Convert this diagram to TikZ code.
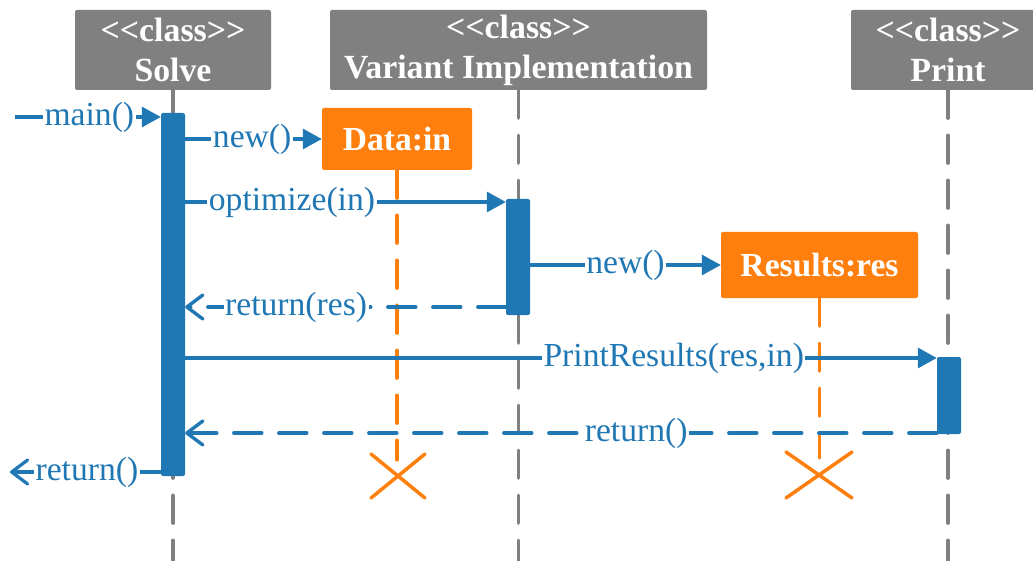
\documentclass[tikz,border=0pt]{standalone}
\usepackage{fontspec}
\setmainfont{Liberation Serif}
\usetikzlibrary{arrows.meta}
\definecolor{cblue}{RGB}{31,119,180}
\definecolor{corange}{RGB}{255,127,14}
\definecolor{cgray}{RGB}{128,128,128}
\newcommand\clsname{<\kern0pt<class>\kern0pt>}
\begin{document}
\begin{tikzpicture}[x=1pt,y=-1pt,
  hdr/.style={fill=cgray, rounded corners=2pt, text=white, font=\fontsize{33.8}{40}\selectfont\bfseries, align=center, minimum height=80pt, inner sep=0pt},
  obj/.style={fill=corange, rounded corners=2pt, text=white, font=\fontsize{33.6}{39}\selectfont\bfseries, inner sep=0pt},
  actbar/.style={fill=cblue, rounded corners=2pt, minimum width=24pt, inner sep=0pt},
  lifeline/.style={draw=cgray, line width=3.3pt, dash pattern=on 28pt off 17pt, line cap=round},
  olife/.style={draw=corange, line width=3.3pt, dash pattern=on 28pt off 17pt, line cap=round},
  call/.style={draw=cblue, line width=3.2pt, -{Triangle[length=19pt,width=20pt]}},
  ret/.style={draw=cblue, line width=3.4pt, dash pattern=on 28pt off 17pt, line cap=round, -{Straight Barb[length=16pt,width=24pt,round]}},
  lret/.style={draw=cblue, line width=3.2pt, -{Straight Barb[length=16pt,width=24pt,round]}},
  lbl/.style={fill=white, text=cblue, inner sep=1.5pt, font=\fontsize{33.6}{39}\selectfont},
  xmark/.style={draw=corange, line width=3.5pt, line cap=round}
]
\useasboundingbox (0,0) rectangle (1033,561);
\coordinate (bottom) at (0,561);

% headers
\node[hdr, minimum width=196pt] (solve) at (173,50) {\clsname\\Solve};
\node[hdr, minimum width=377pt] (variant) at (518.5,50) {\clsname\\Variant Implementation};
\node[hdr, minimum width=194pt] (print) at (948,50) {\clsname\\Print};

% lifelines
\draw[lifeline] (solve.south) -- (solve.south |- bottom);
\draw[lifeline] (variant.south) -- (variant.south |- bottom);
\draw[lifeline] (print.south) -- (print.south |- bottom);

% objects
\node[obj, minimum width=150pt, minimum height=62pt] (data) at (397,139) {Data:in};
\node[obj, minimum width=197pt, minimum height=66pt] (results) at (819.5,265) {Results:res};
\coordinate (dataend) at (398,460);
\coordinate (resend) at (819,458);
\draw[olife] (data.south) -- (data.south |- dataend);
\draw[olife] (results.south) -- (results.south |- resend);
\coordinate (dx) at (398,476);
\coordinate (rx) at (819,475);
\draw[xmark] ([shift={(-27,-22)}]dx) -- ([shift={(27,22)}]dx)
             ([shift={(-27,22)}]dx) -- ([shift={(27,-22)}]dx);
\draw[xmark] ([shift={(-33,-23)}]rx) -- ([shift={(33,23)}]rx)
             ([shift={(-33,23)}]rx) -- ([shift={(33,-23)}]rx);

% activation bars
\node[actbar, minimum height=363pt] (sbar) at (173,294.5) {};
\node[actbar, minimum height=116pt] (vbar) at (518,257) {};
\node[actbar, minimum height=77pt] (pbar) at (949,395.5) {};

% messages
\coordinate (mainL) at (15,117);
\coordinate (yopt) at (0,202);
\coordinate (yrr) at (0,307);
\coordinate (ypr) at (0,358);
\coordinate (yr2) at (0,433);
\coordinate (retL) at (10,472);

\draw[call] (mainL) -- (mainL -| sbar.west) node[lbl, pos=0.51] {main()};
\draw[call] (sbar.east |- data.west) -- (data.west) node[lbl, pos=0.49] {new()};
\draw[call] (sbar.east |- yopt) -- (vbar.west |- yopt) node[lbl, pos=0.333] {optimize(in)};
\draw[call] (vbar.east |- results.west) -- (results.west) node[lbl, pos=0.5] {new()};
\draw[ret] (vbar.west |- yrr) -- (sbar.east |- yrr) node[lbl, pos=0.654] {return(res)};
\draw[call] (sbar.east |- ypr) -- (pbar.west |- ypr) node[lbl, pos=0.65] {PrintResults(res,in)};
\draw[ret] (pbar.west |- yr2) -- (sbar.east |- yr2) node[lbl, pos=0.40] {return()};
\draw[lret] (sbar.west |- retL) -- (retL) node[lbl, pos=0.49] {return()};
\end{tikzpicture}
\end{document}
